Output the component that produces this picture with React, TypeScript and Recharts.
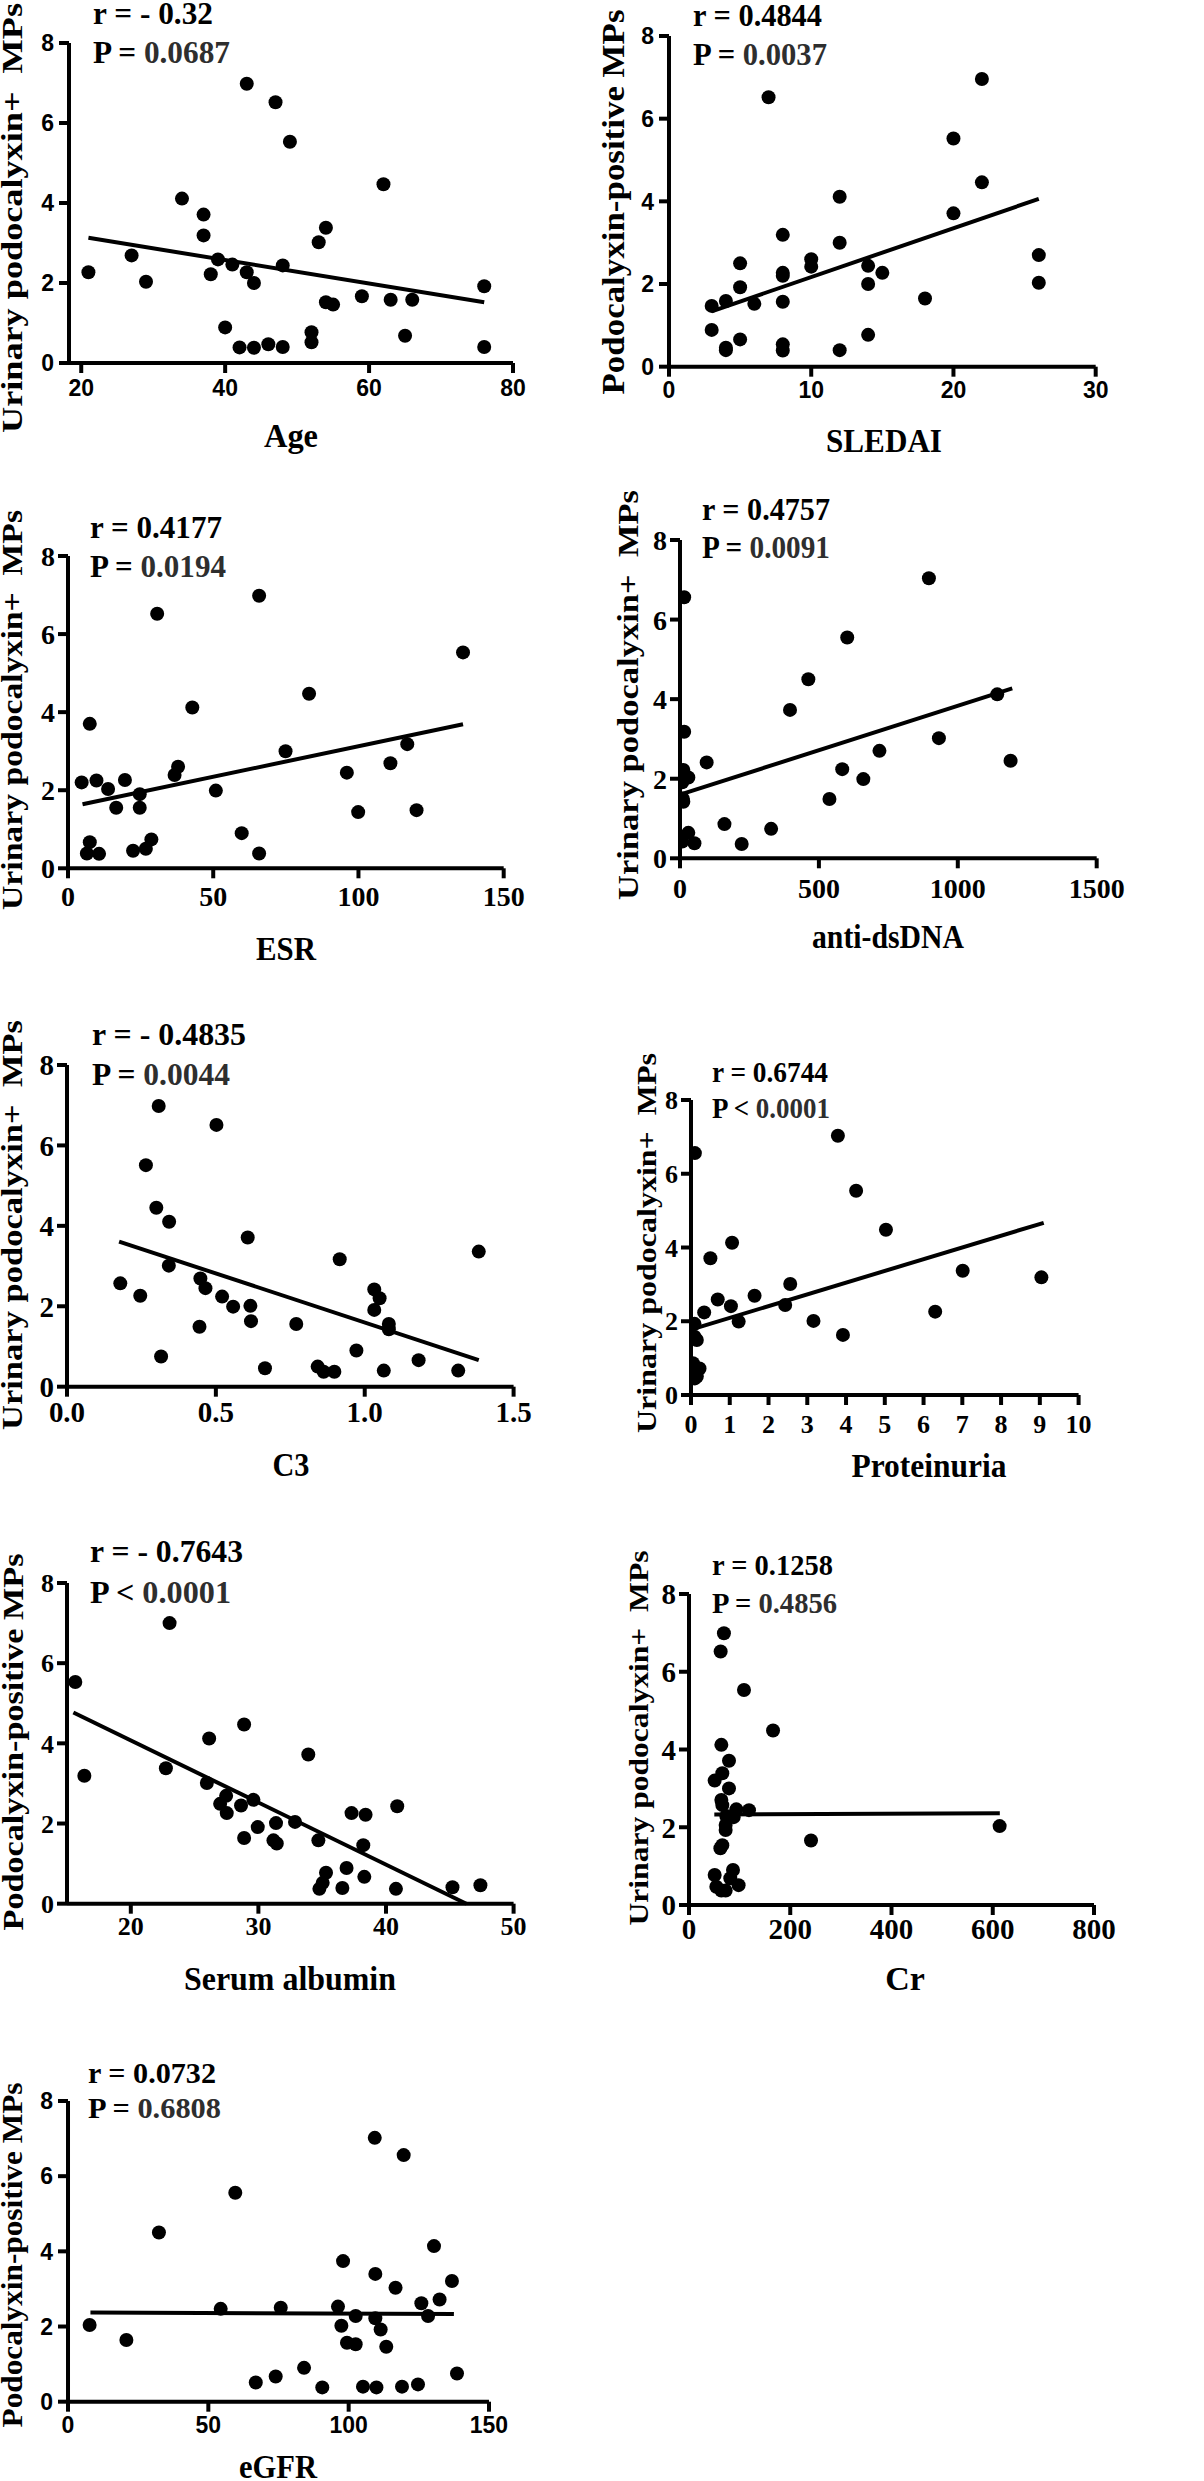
import React from 'react';
import { ScatterChart, Scatter, XAxis, YAxis, ReferenceLine } from 'recharts';

const SANS = '"Liberation Sans", Arial, sans-serif';
const SERIF = '"Liberation Serif", "Times New Roman", serif';

// ---------- data (x = clinical parameter, y = urinary podocalyxin+ MPs) ----------
const ageX = [21, 27, 29, 34, 37, 37, 38, 39, 40, 41, 42, 43, 43, 44, 44, 46, 47, 48, 48, 49, 52, 52, 53, 54, 54, 55, 59, 62, 63, 65, 66, 76, 76];
const ageY = [2.27, 2.69, 2.03, 4.11, 3.71, 3.19, 2.22, 2.59, 0.89, 2.46, 0.39, 6.98, 2.27, 2.0, 0.38, 0.47, 6.52, 2.44, 0.4, 5.53, 0.77, 0.52, 3.02, 3.38, 1.52, 1.46, 1.67, 4.47, 1.58, 0.68, 1.58, 1.92, 0.4];
const ageFit = [{ x: 21, y: 3.13 }, { x: 76, y: 1.52 }];

const sledaiX = [3, 3, 4, 4, 4, 5, 5, 5, 6, 7, 8, 8, 8, 8, 8, 8, 10, 10, 12, 12, 12, 14, 14, 14, 15, 18, 20, 20, 22, 22, 26, 26];
const sledaiY = [1.47, 0.89, 1.59, 0.46, 0.4, 2.5, 1.92, 0.66, 1.52, 6.52, 3.19, 2.27, 2.2, 1.57, 0.54, 0.39, 2.6, 2.42, 4.11, 3.0, 0.4, 2.44, 2.0, 0.77, 2.27, 1.65, 5.52, 3.71, 6.96, 4.46, 2.7, 2.03];
const sledaiFit = [{ x: 3, y: 1.34 }, { x: 26, y: 4.06 }];

const esrX = [4.7, 7.5, 7.5, 6.5, 9.8, 10.7, 13.8, 16.6, 19.6, 24.7, 24.7, 22.4, 26.8, 28.7, 30.7, 36.7, 37.9, 42.8, 50.9, 59.8, 65.8, 65.8, 74.9, 83, 96, 99.9, 111, 116.8, 120, 136];
const esrY = [2.2, 3.7, 0.67, 0.38, 2.25, 0.37, 2.03, 1.55, 2.26, 1.9, 1.55, 0.45, 0.5, 0.74, 6.52, 2.39, 2.6, 4.12, 1.99, 0.9, 6.98, 0.38, 3.0, 4.47, 2.45, 1.44, 2.69, 3.18, 1.49, 5.53];
const esrFit = [{ x: 5, y: 1.64 }, { x: 136, y: 3.69 }];

const dnaX = [15, 15, 12, 30, 8, 10, 12, 30, 8, 52, 96, 160, 222, 328, 396, 462, 538, 584, 602, 660, 718, 896, 932, 1142, 1190];
const dnaY = [6.56, 3.18, 2.22, 2.03, 1.91, 1.5, 1.42, 0.64, 0.42, 0.38, 2.41, 0.86, 0.36, 0.74, 3.73, 4.5, 1.49, 2.24, 5.55, 1.99, 2.7, 7.04, 3.02, 4.12, 2.45];
const dnaFit = [{ x: 0, y: 1.6 }, { x: 1196, y: 4.27 }];

const c3X = [0.179, 0.246, 0.265, 0.3, 0.308, 0.316, 0.343, 0.342, 0.448, 0.465, 0.445, 0.502, 0.521, 0.558, 0.607, 0.616, 0.618, 0.665, 0.77, 0.842, 0.862, 0.898, 0.916, 0.972, 1.032, 1.05, 1.032, 1.081, 1.081, 1.064, 1.181, 1.314, 1.383];
const c3Y = [2.57, 2.26, 5.51, 4.45, 6.98, 0.75, 4.1, 3.01, 2.69, 2.45, 1.49, 6.51, 2.24, 1.99, 3.71, 2.01, 1.63, 0.46, 1.56, 0.5, 0.37, 0.37, 3.17, 0.9, 2.42, 2.2, 1.91, 1.56, 1.43, 0.4, 0.66, 0.4, 3.36];
const c3Fit = [{ x: 0.175, y: 3.61 }, { x: 1.383, y: 0.66 }];

const protX = [0.1, 0.09, 0.09, 0.15, 0.05, 0.1, 0.22, 0.1, 0.15, 0.34, 0.5, 0.69, 1.03, 1.06, 1.23, 1.64, 2.43, 2.56, 3.16, 3.79, 3.92, 4.26, 5.03, 6.3, 7.01, 9.04];
const protY = [6.56, 1.93, 1.58, 1.49, 0.86, 0.72, 0.72, 0.45, 0.5, 2.24, 3.71, 2.59, 2.41, 4.13, 1.99, 2.69, 2.44, 3.01, 2.01, 7.03, 1.63, 5.54, 4.48, 2.26, 3.37, 3.19];
const protFit = [{ x: 0.02, y: 1.78 }, { x: 9.1, y: 4.67 }];

const albX = [15.65, 16.36, 22.75, 23.04, 25.96, 26.14, 27.0, 27.47, 27.52, 28.64, 28.88, 28.88, 29.61, 29.95, 31.18, 31.44, 31.38, 32.87, 33.91, 34.7, 34.78, 35.04, 35.3, 36.58, 36.91, 37.3, 38.3, 38.22, 38.4, 40.78, 40.88, 45.21, 47.4];
const albY = [5.53, 3.19, 3.38, 7.0, 3.01, 4.12, 2.49, 2.69, 2.26, 2.45, 4.47, 1.64, 2.59, 1.91, 1.58, 1.5, 2.01, 2.04, 3.72, 1.58, 0.37, 0.52, 0.77, 0.39, 0.89, 2.26, 0.67, 1.46, 2.22, 0.37, 2.43, 0.41, 0.46];
const albFit = [{ x: 15.5, y: 4.77 }, { x: 46.3, y: 0 }];

const crX = [69, 62.5, 108.6, 166, 63.9, 79, 65.8, 50.7, 79, 63.9, 65.8, 93.5, 118.5, 73.7, 88.2, 72.4, 72.4, 65.8, 62, 241, 613.6, 50.7, 86.9, 81.6, 98, 54, 63.9, 72.4];
const crY = [6.99, 6.52, 5.53, 4.49, 4.12, 3.71, 3.39, 3.2, 3.0, 2.7, 2.57, 2.46, 2.44, 2.29, 2.26, 2.06, 1.93, 1.54, 1.46, 1.66, 2.03, 0.77, 0.9, 0.69, 0.51, 0.47, 0.37, 0.37];
const crFit = [{ x: 50, y: 2.33 }, { x: 614, y: 2.36 }];

const gfrX = [7.7, 20.8, 32.4, 54.4, 59.6, 66.9, 74, 75.8, 84.1, 90.6, 96.2, 98, 97.4, 99.4, 102.5, 102.5, 105.1, 109.3, 109.5, 109.5, 109.9, 111.4, 113.4, 116.7, 119, 119.6, 124.7, 125.9, 128.3, 130.4, 132.4, 136.8, 138.6];
const gfrY = [2.04, 1.64, 4.5, 2.47, 5.56, 0.51, 0.67, 2.5, 0.9, 0.38, 2.53, 3.74, 2.02, 1.57, 1.53, 2.28, 0.4, 7.02, 3.4, 2.22, 0.38, 1.92, 1.46, 3.03, 0.4, 6.56, 0.46, 2.62, 2.28, 4.14, 2.72, 3.21, 0.75];
const gfrFit = [{ x: 8, y: 2.37 }, { x: 137.5, y: 2.33 }];

const yTicks = [0, 2, 4, 6, 8];
const ageTicks = [20, 40, 60, 80];
const sledaiTicks = [0, 10, 20, 30];
const esrTicks = [0, 50, 100, 150];
const dnaTicks = [0, 500, 1000, 1500];
const c3Ticks = [0, 0.5, 1, 1.5];
const protTicks = [0, 1, 2, 3, 4, 5, 6, 7, 8, 9, 10];
const albTicks = [20, 30, 40, 50];
const crTicks = [0, 200, 400, 600, 800];
const gfrTicks = [0, 50, 100, 150];

const LABEL_U = 'Urinary podocalyxin+  MPs';
const LABEL_P = 'Podocalyxin-positive MPs';

// ---------- layout ----------
const panels = [
  { xs: ageX, ys: ageY, fit: ageFit, ticks: ageTicks, domain: [18.3, 80], box: { x0: 69.3, x1: 513.3, y8: 43.3, y0: 363.3 }, font: SANS, fs: 23, xm: 7, ym: 5 },
  { xs: sledaiX, ys: sledaiY, fit: sledaiFit, ticks: sledaiTicks, domain: [0, 30], box: { x0: 669.3, x1: 1096, y8: 36, y0: 366.7 }, font: SANS, fs: 23, xm: 5, ym: 5 },
  { xs: esrX, ys: esrY, fit: esrFit, ticks: esrTicks, domain: [0, 150], box: { x0: 68.3, x1: 504, y8: 556, y0: 868.3 }, font: SERIF, fs: 28, xm: 8, ym: 3 },
  { xs: dnaX, ys: dnaY, fit: dnaFit, ticks: dnaTicks, domain: [0, 1500], box: { x0: 680, x1: 1096.7, y8: 540, y0: 858.3 }, font: SERIF, fs: 28, xm: 10, ym: 3 },
  { xs: c3X, ys: c3Y, fit: c3Fit, ticks: c3Ticks, domain: [0, 1.5], box: { x0: 66.7, x1: 513.3, y8: 1065, y0: 1386.7 }, font: SERIF, fs: 29, xm: 5, ym: 3, fmt: (v: number) => v.toFixed(1) },
  { xs: protX, ys: protY, fit: protFit, ticks: protTicks, domain: [0, 10], box: { x0: 690.7, x1: 1078.3, y8: 1100, y0: 1395 }, font: SERIF, fs: 26, xm: 10, ym: 3 },
  { xs: albX, ys: albY, fit: albFit, ticks: albTicks, domain: [15, 50], box: { x0: 66.7, x1: 513.3, y8: 1583.3, y0: 1904 }, font: SERIF, fs: 26, xm: 3, ym: 3 },
  { xs: crX, ys: crY, fit: crFit, ticks: crTicks, domain: [0, 800], box: { x0: 689.3, x1: 1094.3, y8: 1594, y0: 1905 }, font: SERIF, fs: 29, xm: 3, ym: 3 },
  { xs: gfrX, ys: gfrY, fit: gfrFit, ticks: gfrTicks, domain: [0, 150], box: { x0: 68.3, x1: 489.3, y8: 2101, y0: 2401.7 }, font: SANS, fs: 23, xm: 5, ym: 5 },
];

const yLabels = [
  { text: LABEL_U, a: 2, cy: 218, len: 430, fs: 30 },
  { text: LABEL_P, a: 603, cy: 202, len: 385, fs: 31 },
  { text: LABEL_U, a: 2, cy: 710, len: 400, fs: 30 },
  { text: LABEL_U, a: 618, cy: 695, len: 410, fs: 30 },
  { text: LABEL_U, a: 2, cy: 1225, len: 410, fs: 30 },
  { text: LABEL_U, a: 637, cy: 1243, len: 380, fs: 28 },
  { text: LABEL_P, a: 3, cy: 1742, len: 377, fs: 30 },
  { text: LABEL_U, a: 629, cy: 1738, len: 375, fs: 28 },
  { text: LABEL_P, a: 3, cy: 2255, len: 345, fs: 29 },
];

const xTitles = [
  { text: 'Age', cx: 291, base: 447, len: 54 },
  { text: 'SLEDAI', cx: 884, base: 452, len: 116 },
  { text: 'ESR', cx: 286, base: 960, len: 60 },
  { text: 'anti-dsDNA', cx: 888, base: 948, len: 152 },
  { text: 'C3', cx: 291, base: 1476, len: 37 },
  { text: 'Proteinuria', cx: 929, base: 1477, len: 155 },
  { text: 'Serum albumin', cx: 290, base: 1990, len: 212 },
  { text: 'Cr', cx: 905, base: 1990, len: 0 },
  { text: 'eGFR', cx: 278, base: 2478, len: 78 },
];

const stats = [
  { x: 93, rb: 24, pb: 63, r: 'r = - 0.32', pOp: 'P = ', p: '0.0687', rl: 120, pl: 137, fs: 31 },
  { x: 693, rb: 26, pb: 65, r: 'r = 0.4844', pOp: 'P = ', p: '0.0037', rl: 129, pl: 134, fs: 31 },
  { x: 90, rb: 538, pb: 577, r: 'r = 0.4177', pOp: 'P = ', p: '0.0194', rl: 132, pl: 136, fs: 31 },
  { x: 702, rb: 520, pb: 558, r: 'r = 0.4757', pOp: 'P = ', p: '0.0091', rl: 128, pl: 128, fs: 31 },
  { x: 92, rb: 1045, pb: 1085, r: 'r = - 0.4835', pOp: 'P = ', p: '0.0044', rl: 154, pl: 138, fs: 31 },
  { x: 712, rb: 1082, pb: 1118, r: 'r = 0.6744', pOp: 'P < ', p: '0.0001', rl: 116, pl: 118, fs: 29 },
  { x: 90, rb: 1562, pb: 1603, r: 'r = - 0.7643', pOp: 'P < ', p: '0.0001', rl: 153, pl: 141, fs: 31 },
  { x: 712, rb: 1575, pb: 1613, r: 'r = 0.1258', pOp: 'P = ', p: '0.4856', rl: 121, pl: 125, fs: 29 },
  { x: 88, rb: 2083, pb: 2118, r: 'r = 0.0732', pOp: 'P = ', p: '0.6808', rl: 128, pl: 133, fs: 30 },
];

function Dot(props: any) {
  const { cx, cy } = props;
  if (cx == null || cy == null) return null;
  return <circle cx={cx} cy={cy} r={7} fill="#000" />;
}

const PADL = 70, PADT = 20, PADR = 30, PADB = 60;

function Panel({ cfg }: { cfg: any }) {
  const { box } = cfg;
  const W = box.x1 - box.x0 + PADL + PADR;
  const H = box.y0 - box.y8 + PADT + PADB;
  const data = cfg.xs.map((x: number, i: number) => ({ x, y: cfg.ys[i] }));
  const tickStyle = { fill: '#000', fontSize: cfg.fs, fontFamily: cfg.font, fontWeight: 700 };
  const line = { stroke: '#000', strokeWidth: 4 };
  return (
    <div style={{ position: 'absolute', left: box.x0 - PADL, top: box.y8 - PADT }}>
      <ScatterChart width={W} height={H} margin={{ top: PADT, right: PADR, bottom: 0, left: 0 }}>
        <XAxis
          type="number"
          dataKey="x"
          domain={cfg.domain}
          ticks={cfg.ticks}
          allowDataOverflow
          interval={0}
          height={PADB}
          axisLine={line}
          tickLine={line}
          tickSize={10}
          tickMargin={cfg.xm}
          tick={tickStyle}
          tickFormatter={cfg.fmt}
        />
        <YAxis
          type="number"
          dataKey="y"
          domain={[0, 8]}
          ticks={yTicks}
          allowDataOverflow
          interval={0}
          width={PADL}
          axisLine={line}
          tickLine={line}
          tickSize={10}
          tickMargin={cfg.ym}
          tick={tickStyle}
        />
        <ReferenceLine segment={cfg.fit} stroke="#000" strokeWidth={4} ifOverflow="visible" />
        <Scatter data={data} shape={Dot} isAnimationActive={false} />
      </ScatterChart>
    </div>
  );
}

export default function App() {
  return (
    <div style={{ position: 'absolute', left: 0, top: 0, width: 1204, height: 2481, background: '#fff', overflow: 'hidden' }}>
      {panels.map((p, i) => (
        <Panel key={i} cfg={p} />
      ))}
      <svg width={1204} height={2481} style={{ position: 'absolute', left: 0, top: 0, pointerEvents: 'none' }}>
        {yLabels.map((l, i) => (
          <text
            key={'yl' + i}
            transform={`translate(${l.a + 0.662 * l.fs}, ${l.cy}) rotate(-90)`}
            textAnchor="middle"
            fontFamily={SERIF}
            fontWeight={700}
            fontSize={l.fs}
            fill="#000"
            textLength={l.len}
            lengthAdjust="spacingAndGlyphs"
            style={{ whiteSpace: 'pre' }}
          >
            {l.text}
          </text>
        ))}
        {xTitles.map((t, i) => (
          <text
            key={'xt' + i}
            x={t.cx}
            y={t.base}
            textAnchor="middle"
            fontFamily={SERIF}
            fontWeight={700}
            fontSize={34}
            fill="#000"
            {...(t.len ? { textLength: t.len, lengthAdjust: 'spacingAndGlyphs' } : {})}
          >
            {t.text}
          </text>
        ))}
        {stats.map((s, i) => (
          <g key={'st' + i}>
            <text x={s.x} y={s.rb} fontFamily={SERIF} fontWeight={700} fontSize={s.fs} fill="#000" textLength={s.rl} lengthAdjust="spacingAndGlyphs" style={{ whiteSpace: 'pre' }}>
              {s.r}
            </text>
            <text x={s.x} y={s.pb} fontFamily={SERIF} fontWeight={700} fontSize={s.fs} fill="#000" textLength={s.pl} lengthAdjust="spacingAndGlyphs" style={{ whiteSpace: 'pre' }}>
              {s.pOp}
              <tspan fill="#2e2e2e">{s.p}</tspan>
            </text>
          </g>
        ))}
      </svg>
    </div>
  );
}
